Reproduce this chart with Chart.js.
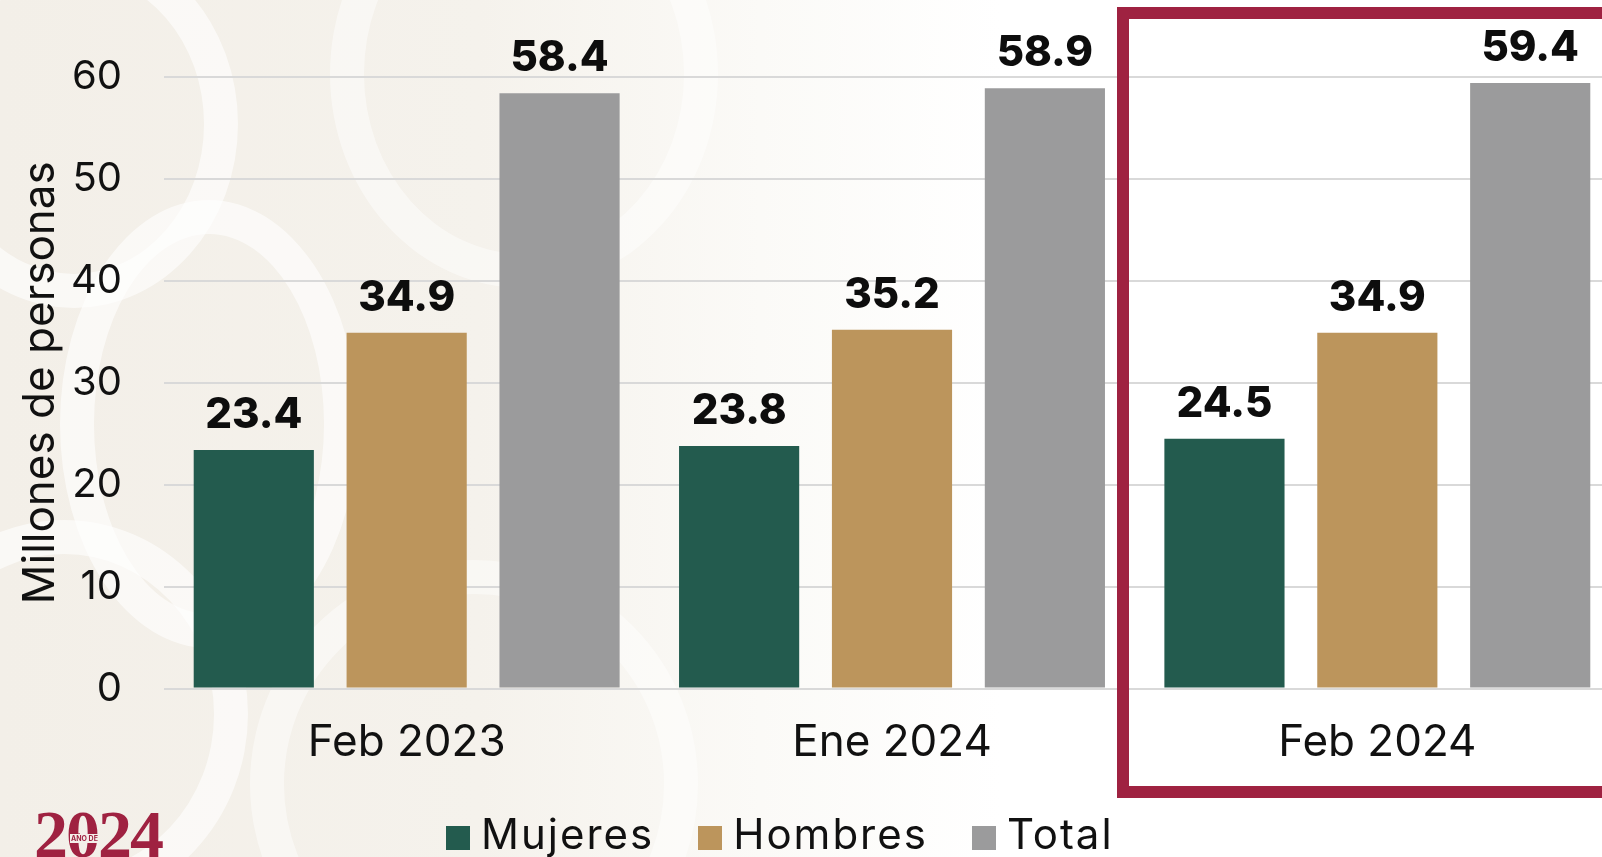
<!DOCTYPE html>
<html lang="es">
<head>
<meta charset="utf-8">
<title>Millones de personas</title>
<script src="https://cdn.jsdelivr.net/npm/chart.js@4.4.1/dist/chart.umd.min.js"></script>
<style>
	html, body {
		margin: 0;
		padding: 0;
		width: 1602px;
		height: 857px;
		overflow: hidden;
		font-family: Inter, "Open Sans", sans-serif;
	}
	body {
		position: relative;
		background: linear-gradient(to right, #f3efe8 0px, #f5f2ec 480px, #fbfaf7 760px, #ffffff 1000px);
	}
	.swirl {
		position: absolute;
		border: 34px solid rgba(255, 255, 255, 0.6);
		border-radius: 50%;
	}
	#highlightFill {
		position: absolute;
		left: 1117px;
		top: 7px;
		width: 500px;
		height: 791px;
		background: #ffffff;
	}
	#highlightBorder {
		position: absolute;
		left: 1117px;
		top: 7px;
		width: 500px;
		height: 791px;
		box-sizing: border-box;
		border: 12px solid #9f2241;
		z-index: 3;
	}
	#chartBox {
		position: absolute;
		left: 0;
		top: 0;
		z-index: 2;
	}
	#legend {
		position: absolute;
		left: 446px;
		top: 813px;
		display: flex;
		gap: 44px;
		z-index: 4;
	}
	.legendItem {
		display: flex;
		align-items: flex-start;
		font-size: 42px;
		line-height: 42px;
		letter-spacing: 2px;
		color: #111;
	}
	.legendBox {
		width: 24px;
		height: 24px;
		margin-top: 13px;
		margin-right: 11px;
	}
	#logo {
		position: absolute;
		left: 34px;
		top: 800px;
		font-family: "Liberation Serif", serif;
		font-weight: bold;
		font-size: 68px;
		line-height: 68px;
		color: #9f2241;
		letter-spacing: -2px;
		z-index: 4;
	}
	#logoSmall {
		position: absolute;
		left: 70px;
		top: 834px;
		font-family: Inter, sans-serif;
		font-weight: bold;
		font-size: 7px;
		color: #9f2241;
		background: #f4f0ea;
		padding: 0 1px;
		z-index: 5;
	}
</style>
</head>
<body>
<div class="swirl" style="left:-90px; top:-60px; width:260px; height:300px;"></div>
<div class="swirl" style="left:60px; top:200px; width:230px; height:380px;"></div>
<div class="swirl" style="left:-120px; top:520px; width:300px; height:320px;"></div>
<div class="swirl" style="left:330px; top:-140px; width:320px; height:360px; border-color: rgba(255,255,255,0.45);"></div>
<div class="swirl" style="left:250px; top:560px; width:380px; height:380px; border-color: rgba(255,255,255,0.45);"></div>
<div id="highlightFill"></div>
<div id="chartBox"><canvas id="empleoChart" width="1620" height="857"></canvas></div>
<div id="highlightBorder"></div>
<div id="legend"></div>
<div id="logo">2024</div>
<div id="logoSmall">AÑO DE</div>

<script>
// Categories and series (millones de personas)
const periodos = ["Feb 2023", "Ene 2024", "Feb 2024"];
const mujeres = [23.4, 23.8, 24.5];
const hombres = [34.9, 35.2, 34.9];
const total = [58.4, 58.9, 59.4];

const seriesNames = ["Mujeres", "Hombres", "Total"];
const seriesColors = ["#235b4e", "#bc955c", "#9b9b9c"];

const yTicks = [0, 10, 20, 30, 40, 50, 60];

// Labels above each bar
const barValuePlugin = {
	id: "barValues",
	afterDatasetsDraw: function (chart) {
		const ctx = chart.ctx;
		ctx.save();
		ctx.font = "800 42px Inter, sans-serif";
		ctx.fillStyle = "#0d0d0d";
		ctx.textAlign = "center";
		ctx.textBaseline = "alphabetic";
		chart.data.datasets.forEach((dataset, i) => {
			const meta = chart.getDatasetMeta(i);
			meta.data.forEach((bar, j) => {
				ctx.fillText(dataset.data[j].toFixed(1), bar.x, bar.y - 22);
			});
		});
		ctx.restore();
	},
};

const seriesData = [mujeres, hombres, total];

const empleoChart = new Chart(document.getElementById("empleoChart").getContext("2d"), {
	type: "bar",
	data: {
		labels: periodos,
		datasets: seriesNames.map((name, i) => ({
			label: name,
			data: seriesData[i],
			backgroundColor: seriesColors[i],
			categoryPercentage: 0.945,
			barPercentage: 0.786,
		})),
	},
	options: {
		responsive: false,
		animation: false,
		devicePixelRatio: 1,
		layout: {
			padding: { top: 77, left: 0, right: 0, bottom: 0 },
		},
		scales: {
			x: {
				grid: { display: false, drawTicks: false },
				border: { display: false },
				ticks: {
					color: "#111",
					font: { family: "Inter", size: 44 },
					padding: 28,
					maxRotation: 0,
				},
				afterFit: function (scale) {
					scale.height = 168.5;
				},
			},
			y: {
				min: 0,
				max: 60,
				afterBuildTicks: function (scale) {
					scale.ticks = yTicks.map((v) => ({ value: v }));
				},
				grid: {
					color: "#d9d9d9",
					lineWidth: 2,
					drawTicks: false,
				},
				border: { display: false },
				ticks: {
					color: "#111",
					font: { family: "Inter", size: 40 },
					padding: 42,
				},
				title: {
					display: true,
					text: "Millones de personas",
					color: "#111",
					font: { family: "Inter", size: 44 },
					padding: { top: 14, bottom: 0 },
				},
				afterFit: function (scale) {
					scale.width = 164;
				},
			},
		},
		plugins: {
			legend: { display: false },
			tooltip: { enabled: false },
		},
	},
	plugins: [barValuePlugin],
});

// Legend built from the same series arrays
const legendDiv = document.getElementById("legend");
seriesNames.forEach((name, i) => {
	const item = document.createElement("div");
	item.className = "legendItem";
	const box = document.createElement("span");
	box.className = "legendBox";
	box.style.background = seriesColors[i];
	const text = document.createElement("span");
	text.textContent = name;
	item.appendChild(box);
	item.appendChild(text);
	legendDiv.appendChild(item);
});
</script>
</body>
</html>
